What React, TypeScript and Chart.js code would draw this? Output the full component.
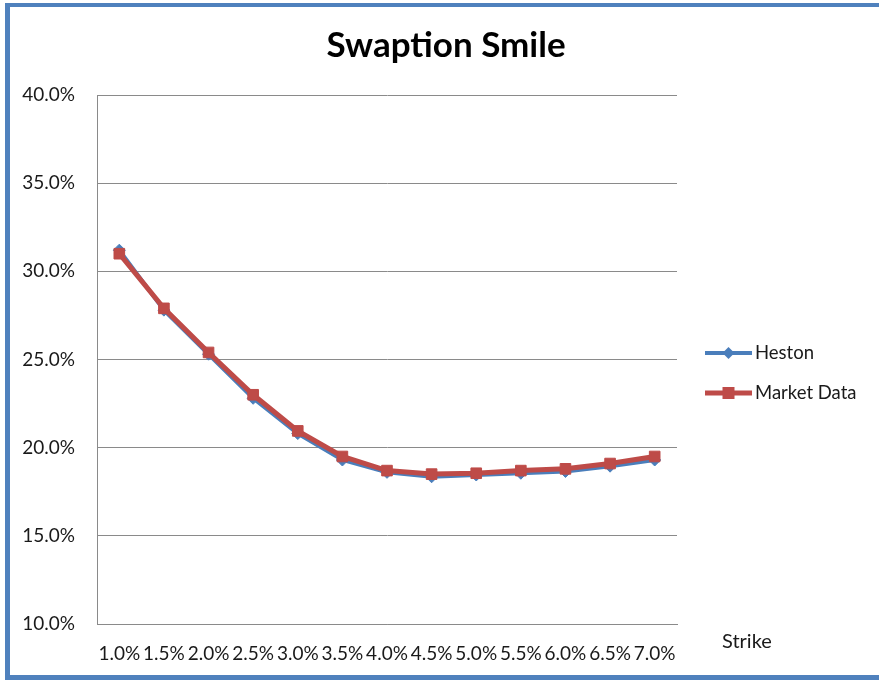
import React, { useEffect, useRef } from "react";
import { Chart, registerables } from "chart.js";

Chart.register(...registerables);

const strikes = ["1.0%", "1.5%", "2.0%", "2.5%", "3.0%", "3.5%", "4.0%", "4.5%", "5.0%", "5.5%", "6.0%", "6.5%", "7.0%"];
const heston = [31.2, 27.8, 25.3, 22.8, 20.8, 19.3, 18.6, 18.35, 18.45, 18.55, 18.65, 18.95, 19.3];
const marketData = [31.0, 27.9, 25.4, 23.0, 20.95, 19.5, 18.7, 18.5, 18.55, 18.7, 18.8, 19.1, 19.5];
const yMin = 10;
const yMax = 40;
const yStep = 5;
const chartTitle = "Swaption Smile";
const xAxisTitle = "Strike";
const seriesNames = ["Heston", "Market Data"];

const BLUE = "#4A7EBB";
const RED = "#BE4B48";
const GRID = "#8a8a8a";
const FONT = "Lato";
const TEXT = "#1a1a1a";

const overlayPlugin = {
  id: "overlay",
  afterDraw(chart: any) {
    const ctx = chart.ctx as CanvasRenderingContext2D;
    const area = chart.chartArea;
    ctx.save();
    // title
    ctx.fillStyle = "#000";
    ctx.font = `bold 35px ${FONT}`;
    ctx.textAlign = "center";
    ctx.textBaseline = "alphabetic";
    ctx.fillText(chartTitle, 446, 57);

    // x axis title at right
    ctx.fillStyle = TEXT;
    ctx.font = `20px ${FONT}`;
    ctx.textAlign = "left";
    ctx.textBaseline = "middle";
    ctx.fillText(xAxisTitle, area.right + 45, 642);

    // legend
    const lx0 = area.right + 28;
    const lx1 = area.right + 75;
    const items = [
      { name: seriesNames[0], color: BLUE, y: 353, style: "diamond" },
      { name: seriesNames[1], color: RED, y: 393, style: "square" },
    ];
    for (const it of items) {
      ctx.strokeStyle = it.color;
      ctx.fillStyle = it.color;
      ctx.lineWidth = it.style === "square" ? 5 : 4;
      ctx.beginPath();
      ctx.moveTo(lx0, it.y);
      ctx.lineTo(lx1, it.y);
      ctx.stroke();
      const cx = (lx0 + lx1) / 2;
      ctx.beginPath();
      if (it.style === "square") {
        ctx.rect(cx - 6, it.y - 6, 12, 12);
      } else {
        ctx.moveTo(cx, it.y - 6);
        ctx.lineTo(cx + 6, it.y);
        ctx.lineTo(cx, it.y + 6);
        ctx.lineTo(cx - 6, it.y);
        ctx.closePath();
      }
      ctx.fill();
      ctx.fillStyle = TEXT;
      ctx.font = `18.5px ${FONT}`;
      ctx.textAlign = "left";
      ctx.textBaseline = "middle";
      ctx.fillText(it.name, lx1 + 3, it.y);
    }
    ctx.restore();
  },
};

export default function App() {
  const ref = useRef<HTMLCanvasElement | null>(null);
  useEffect(() => {
    if (!ref.current) return;
    const chart = new Chart(ref.current, {
      type: "line",
      data: {
        labels: strikes,
        datasets: [
          {
            label: seriesNames[0],
            data: heston,
            borderColor: BLUE,
            backgroundColor: BLUE,
            borderWidth: 4,
            pointStyle: "rectRot",
            pointRadius: 6,
            pointBorderWidth: 1,
            tension: 0,
            order: 1,
          },
          {
            label: seriesNames[1],
            data: marketData,
            borderColor: RED,
            backgroundColor: RED,
            borderWidth: 5,
            pointStyle: "rect",
            pointRadius: 7.5,
            pointBorderWidth: 1,
            tension: 0,
            order: 0,
          },
        ],
      },
      options: {
        responsive: false,
        animation: false,
        events: [],
        layout: { padding: { left: 10, top: 95, right: 202, bottom: 10 } },
        plugins: {
          legend: { display: false },
          title: { display: false },
          tooltip: { enabled: false },
        },
        scales: {
          x: {
            type: "category",
            offset: true,
            grid: { display: false, drawTicks: false },
            border: { display: true, color: GRID, width: 1 },
            ticks: {
              autoSkip: false,
              maxRotation: 0,
              minRotation: 0,
              padding: 18,
              color: TEXT,
              font: { family: FONT, size: 19 },
            },
            afterFit: (s: any) => {
              s.height = 46;
            },
          },
          y: {
            min: yMin,
            max: yMax,
            grid: { color: GRID, lineWidth: 1, drawTicks: false },
            border: { display: true, color: GRID, width: 1 },
            ticks: {
              stepSize: yStep,
              padding: 22,
              color: TEXT,
              font: { family: FONT, size: 19 },
              callback: (v: any) => Number(v).toFixed(1) + "%",
            },
            afterFit: (s: any) => {
              s.width = 87;
            },
          },
        },
      },
      plugins: [overlayPlugin],
    });
    return () => chart.destroy();
  }, []);

  return (
    <div style={{ position: "absolute", left: 0, top: 0, width: 879, height: 680, background: "#fff", overflow: "hidden" }}>
      <canvas ref={ref} width={879} height={680} style={{ position: "absolute", left: 0, top: 0 }} />
      <div
        style={{
          position: "absolute",
          left: 5,
          top: 3,
          width: 879 - 5,
          height: 680 - 3,
          boxSizing: "border-box",
          borderTop: "4px solid #4F81BD",
          borderLeft: "5px solid #4F81BD",
          borderBottom: "5px solid #4F81BD",
          pointerEvents: "none",
        }}
      />
    </div>
  );
}
